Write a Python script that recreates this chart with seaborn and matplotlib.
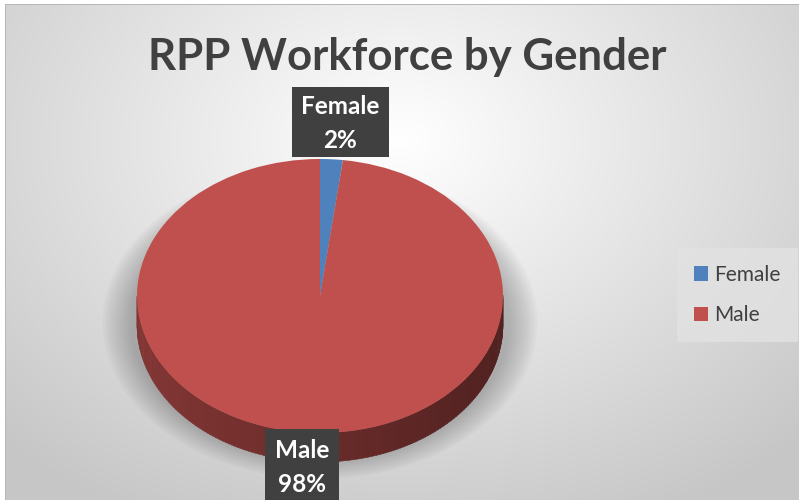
import matplotlib
matplotlib.use("Agg")
import matplotlib.pyplot as plt
import matplotlib.colors as mcolors
from matplotlib.patches import Polygon, Ellipse, FancyBboxPatch
import numpy as np
import seaborn as sns

sns.set_theme(style="white")
plt.rcParams['font.family'] = ['Lato', 'DejaVu Sans']

# data
categories = ['Female', 'Male']
shares = [2, 98]
slice_colors = ['#4f81bd', '#c0504d']
title = 'RPP Workforce by Gender'

W, H = 799, 500
fig = plt.figure(figsize=(W / 100, H / 100), dpi=100)

# background: soft radial gradient inside a thin border
bg = fig.add_axes([0, 0, 1, 1])
yy, xx = np.mgrid[0:H, 0:W]
r = np.sqrt(((xx - 400) / 560.0) ** 2 + ((yy - 140) / 420.0) ** 2)
g = np.clip(1.0 - 0.22 * r, 0.78, 1.0)
img = np.dstack([g, g, g])
img[:5, :, :] = 1.0
img[:, :5, :] = 1.0
img[4, 5:, :] = 0.72
img[4:, 5, :] = 0.72
bg.imshow(img, extent=(0, W, H, 0), aspect='auto', interpolation='bilinear')
bg.set_xlim(0, W)
bg.set_ylim(H, 0)
bg.axis('off')

# pie axes: one data unit = rx px horizontally, ry px vertically
cx, cy, rx, ry, depth = 320, 296, 183, 137, 29
ax = fig.add_axes([0, 0, 1, 1])
ax.patch.set_alpha(0)
d = depth / ry

# soft shadow under the pie
for k in range(12):
    s = 1.0 + 0.013 * k
    ax.add_patch(Ellipse((0.0, -d * 0.9), 2 * s * 1.04, 2 * s * 1.0,
                         facecolor='black', alpha=0.018, lw=0, zorder=1))

# side wall of the front half, coloured by the slice that owns each angle
fracs = np.array(shares, dtype=float) / sum(shares)
thetas = np.linspace(180, 360, 181)
for t0, t1 in zip(thetas[:-1], thetas[1:]):
    tm = (t0 + t1) / 2
    ang = (90 - tm) % 360
    idx = np.searchsorted(np.cumsum(fracs) * 360, ang)
    base = np.array(mcolors.to_rgb(slice_colors[min(idx, len(shares) - 1)]))
    shade = 0.68 - 0.26 * (np.cos(np.radians(tm)) + 1) / 2
    col = base * shade
    a0, a1 = np.radians(t0), np.radians(t1 + 0.3)
    pts = [(np.cos(a0), np.sin(a0)), (np.cos(a1), np.sin(a1)),
           (np.cos(a1), np.sin(a1) - d), (np.cos(a0), np.sin(a0) - d)]
    ax.add_patch(Polygon(pts, closed=True, facecolor=col, edgecolor=col, lw=0.3, zorder=2))

wedges, _ = ax.pie(shares, colors=slice_colors, startangle=90, counterclock=False,
                   radius=1.0, center=(0, 0), wedgeprops=dict(lw=0, zorder=3))
for w in wedges:
    w.set_zorder(3)
ax.set_aspect('auto')
ax.set_xlim(-cx / rx, (W - cx) / rx)
ax.set_ylim(-(H - cy) / ry, cy / ry)
ax.axis('off')

# title
fig.text(407 / W, 1 - 57 / H, title, ha='center', va='center',
         fontsize=31.5, fontweight='bold', color='#404040')

# data labels in dark callout boxes
label_pos = [(340, 122, 97, 69), (302, 466, 74, 74)]
for name, val, (lx, ly, bw, bh) in zip(categories, shares, label_pos):
    fig.patches.append(FancyBboxPatch(((lx - bw / 2) / W, 1 - (ly + bh / 2) / H), bw / W, bh / H,
                                      boxstyle='square,pad=0', transform=fig.transFigure,
                                      facecolor='#404040', edgecolor='none', zorder=5))
    fig.text(lx / W, 1 - (ly - 15) / H, name, ha='center', va='center', fontsize=17.5,
             fontweight='bold', color='white', zorder=6)
    fig.text(lx / W, 1 - (ly + 18) / H, f'{val}%', ha='center', va='center', fontsize=17.5,
             fontweight='bold', color='white', zorder=6)

# legend
leg = fig.legend(wedges, categories, loc='center left', bbox_to_anchor=(677 / W, 1 - 295 / H),
                 frameon=True, fontsize=15, handlelength=0.7, handleheight=0.7,
                 handletextpad=0.3, labelspacing=1.0, borderpad=0.8, borderaxespad=0,
                 fancybox=False)
leg.get_frame().set_facecolor('#e2e2e2')
leg.get_frame().set_edgecolor('none')
for t in leg.get_texts():
    t.set_color('#404040')

fig.savefig('out.png', dpi=100)
